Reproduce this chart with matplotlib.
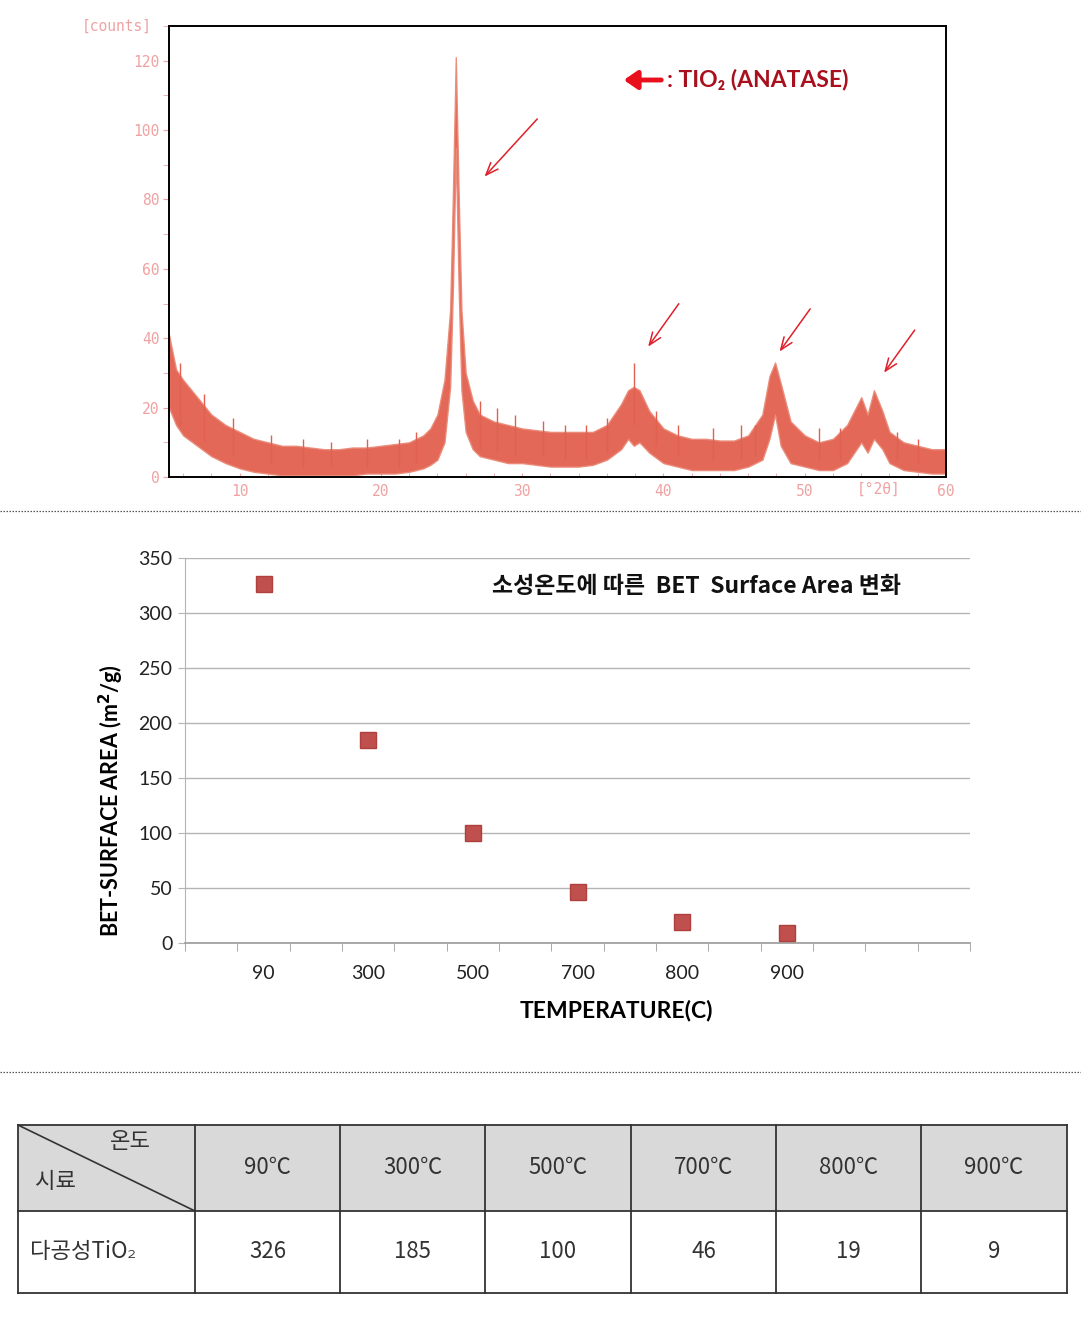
import matplotlib
matplotlib.use("Agg")
import matplotlib.pyplot as plt
from matplotlib.patches import Rectangle
from matplotlib.ticker import MultipleLocator

# ---------------- data ----------------
# XRD pattern envelope (2-theta, lower / upper bound of the noisy trace, counts)
xrd_theta = [5.0, 5.5, 6, 7, 8, 9, 10, 11, 12, 13, 14, 15, 16, 17, 18, 19, 20, 21, 22, 23,
             23.5, 24, 24.5, 24.9, 25.1, 25.3, 25.5, 25.7, 26, 26.5, 27, 28, 29, 30, 31, 32,
             33, 34, 35, 36, 37, 37.5, 37.9, 38.3, 39, 40, 41, 42, 43, 44, 45, 46, 47, 47.5,
             47.9, 48.3, 49, 50, 51, 52, 53, 54.0, 54.45, 54.9, 55.5, 56, 57, 58, 59, 60]
xrd_upper = [41, 31, 28, 23, 18, 15, 13, 11, 10, 9, 9, 8.5, 8, 8, 8.5, 8.5, 9, 9.5, 10, 12,
             14, 18, 28, 48, 82, 121, 82, 48, 30, 22, 18, 16, 15, 14, 13.5, 13,
             13, 13, 13, 15, 21, 25, 26, 25, 19, 14, 12, 11, 11, 10.5, 10.5, 12, 18, 29,
             33, 27, 16, 12, 10, 11, 15, 23, 18, 25, 19, 13, 10, 9, 8, 8]
xrd_lower = [20, 15, 12, 9, 6, 4, 2.5, 1.5, 1, 0.5, 0.5, 0.5, 0.5, 0.5, 0.5, 1, 1, 1, 1.5, 2.5,
             3.5, 5, 10, 26, 55, 95, 55, 25, 13, 8, 6, 5, 4, 4, 3.5, 3,
             3, 3, 3.5, 5, 8, 11, 9, 10, 7, 4, 3, 2, 2, 2, 2, 3, 5, 11,
             18, 9, 4, 3, 2, 2, 4, 10, 7, 11, 8, 4, 2, 1.5, 1, 1]
# individual noise spikes (2-theta, bottom, top)
spike_theta = [5.8, 7.5, 9.5, 12.2, 14.5, 16.5, 19.0, 21.3, 22.5, 27.0, 28.2, 29.5, 31.5,
               33.0, 34.5, 36.0, 37.9, 39.5, 41.0, 43.5, 45.5, 46.5, 51.0, 52.5, 56.5, 58.0]
spike_bottom = [15, 10, 6, 4, 3, 3, 3, 3, 4, 8, 7, 6, 6, 5, 5, 7, 15, 9, 6, 5, 5, 6, 5, 5, 5, 4]
spike_top = [33, 24, 17, 12, 11, 10, 11, 11, 13, 22, 20, 18, 16, 15, 15, 17, 33, 19, 15, 14,
             15, 15, 14, 14, 13, 11]
xrd_xticks = [10, 20, 30, 40, 50, 60]
xrd_yticks = [0, 20, 40, 60, 80, 100, 120]

# BET surface area vs calcination temperature
temp_labels = ["90", "300", "500", "700", "800", "900"]
bet_area = [326, 185, 100, 46, 19, 9]

# table
table_headers = ["90℃", "300℃", "500℃", "700℃", "800℃", "900℃"]
table_values = ["326", "185", "100", "46", "19", "9"]
sample_name = "다공성TiO₂"

# ---------------- figure ----------------
W, H = 1081, 1324
fig = plt.figure(figsize=(W / 100, H / 100), dpi=100)
fig.patch.set_facecolor("white")

def fx(px):
    return px / W

def fy(py):
    return 1 - py / H

# ===== XRD panel =====
pink = "#f0a2a2"
ax1 = fig.add_axes([fx(169), fy(477), fx(946) - fx(169), fy(26) - fy(477)])
ax1.fill_between(xrd_theta, xrd_lower, xrd_upper, color="#e2604f", lw=1.0,
                 edgecolor="#ea8a78", alpha=0.95, zorder=2)
ax1.vlines(spike_theta, spike_bottom, spike_top, color="#e2604f", lw=1.0, zorder=2)
ax1.set_xlim(5, 60)
ax1.set_ylim(0, 130)
for s in ax1.spines.values():
    s.set_color("black")
    s.set_linewidth(1.4)
ax1.set_yticks(xrd_yticks)
ax1.yaxis.set_minor_locator(MultipleLocator(10))
ax1.set_xticks(xrd_xticks)
ax1.xaxis.set_minor_locator(MultipleLocator(2))
ax1.tick_params(axis="y", which="both", direction="out", length=4, color=pink,
                labelcolor=pink, labelsize=10.5, pad=3)
ax1.tick_params(axis="x", which="both", direction="in", length=3, color=pink,
                labelcolor=pink, labelsize=10.5, pad=5)
for lab in ax1.get_xticklabels() + ax1.get_yticklabels():
    lab.set_family("DejaVu Sans Mono")
ax1.text(-0.022, 1.0, "[counts]", transform=ax1.transAxes, ha="right", va="center",
         color=pink, fontsize=10.5, family="DejaVu Sans Mono")
ax1.text(55.2, -1.5, "[°2θ]", ha="center", va="top", color=pink, fontsize=10.5,
         family="DejaVu Sans Mono", transform=ax1.transData)

arrow_red = "#e0202a"
for (x0, y0, x1, y1) in [(31.2, 103.8, 27.2, 86.0), (41.2, 50.6, 38.8, 36.9),
                         (50.5, 49.1, 48.1, 35.5), (57.9, 43.0, 55.5, 29.4)]:
    ax1.annotate("", xy=(x1, y1), xytext=(x0, y0),
                 arrowprops=dict(arrowstyle="->,head_length=0.9,head_width=0.35",
                                 color=arrow_red, lw=1.1))
ax1.annotate("", xy=(fx(621), fy(80)), xytext=(fx(664), fy(80)), xycoords="figure fraction",
             textcoords="figure fraction",
             arrowprops=dict(arrowstyle="-|>,head_length=0.8,head_width=0.55",
                             color="#e8101c", lw=3.5))
fig.text(fx(667), fy(80), ": TIO₂ (ANATASE)", ha="left", va="center", color="#a8101e",
         fontsize=16.5, fontweight="bold", family=["Lato", "DejaVu Sans"])

# separators
for py in [511, 1072]:
    fig.add_artist(plt.Line2D([0, 1], [fy(py), fy(py)], color="#555555", lw=0.9,
                              ls=(0, (1.2, 1.2))))

# ===== BET scatter =====
ax2 = fig.add_axes([fx(185), fy(943), fx(970) - fx(185), fy(558) - fy(943)])
xpos = list(range(1, len(temp_labels) + 1))
ax2.plot(xpos, bet_area, ls="none", marker="s", markersize=11, color="#c0504d",
         markeredgecolor="#b0403d", zorder=3)
ax2.set_xlim(0.25, 7.75)
ax2.set_ylim(0, 350)
ax2.set_yticks(range(0, 351, 50))
ax2.grid(axis="y", color="#b4b4b4", lw=1.0)
ax2.set_axisbelow(True)
for side in ["top", "right"]:
    ax2.spines[side].set_visible(False)
ax2.spines["left"].set_color("#b4b4b4")
ax2.spines["bottom"].set_color("#9a9a9a")
ax2.spines["bottom"].set_linewidth(1.2)
ax2.set_xticks(xpos)
ax2.set_xticklabels(temp_labels)
ax2.set_xticks([0.25 + 0.5 * k for k in range(16)], minor=True)
ax2.tick_params(axis="x", which="major", length=0, pad=16)
ax2.tick_params(axis="x", which="minor", length=6, color="#9a9a9a", direction="out")
ax2.tick_params(axis="y", length=5, color="#b4b4b4", pad=4)
lat = ["Lato", "DejaVu Sans"]
for lab in ax2.get_xticklabels() + ax2.get_yticklabels():
    lab.set_fontsize(14)
    lab.set_family(lat)
    lab.set_color("#222222")
ax2.set_ylabel("BET-SURFACE AREA (m$^\\mathbf{2}$/g)", fontsize=15.5, fontweight="bold",
               family=lat)
ax2.yaxis.set_label_coords(-0.075, 0.371)
ax2.set_xlabel("TEMPERATURE(C)", fontsize=16.5, fontweight="bold", family=lat)
ax2.xaxis.set_label_coords(0.55, -0.148)
fig.text(fx(697), fy(587), "소성온도에 따른  BET  Surface Area 변화", ha="center",
         va="center", fontsize=16.5, fontweight="bold",
         family=["Noto Sans CJK KR", "DejaVu Sans"], color="#111111")

# ===== table =====
axt = fig.add_axes([0, 0, 1, 1])
axt.set_xlim(0, W)
axt.set_ylim(H, 0)
axt.axis("off")
cols = [18, 195, 340, 485, 631, 776, 921, 1067]
top, mid, bot = 1125, 1211, 1293
axt.add_patch(Rectangle((cols[0], top), cols[-1] - cols[0], mid - top,
                        facecolor="#d9d9d9", edgecolor="none"))
lc = "#333333"
for y in [top, mid, bot]:
    axt.plot([cols[0], cols[-1]], [y, y], color=lc, lw=1.3)
for x in cols:
    axt.plot([x, x], [top, bot], color=lc, lw=1.3)
axt.plot([cols[0], cols[1]], [top, mid], color=lc, lw=1.2)
kr = ["Noto Sans CJK KR", "DejaVu Sans"]
axt.text(130, 1141, "온도", ha="center", va="center", fontsize=16, family=kr,
         color="#333333", fontweight="light")
axt.text(55, 1181, "시료", ha="center", va="center", fontsize=16, family=kr,
         color="#333333", fontweight="light")
for i, (h, v) in enumerate(zip(table_headers, table_values)):
    cx = (cols[i + 1] + cols[i + 2]) / 2
    axt.text(cx, 1168, h, ha="center", va="center", fontsize=16, family=kr,
             color="#333333", fontweight="light")
    axt.text(cx, 1252, v, ha="center", va="center", fontsize=16, family=kr,
             color="#333333", fontweight="light")
axt.text(30, 1252, sample_name, ha="left", va="center", fontsize=16, family=kr,
         color="#333333", fontweight="light")

fig.savefig("out.png", dpi=100)
